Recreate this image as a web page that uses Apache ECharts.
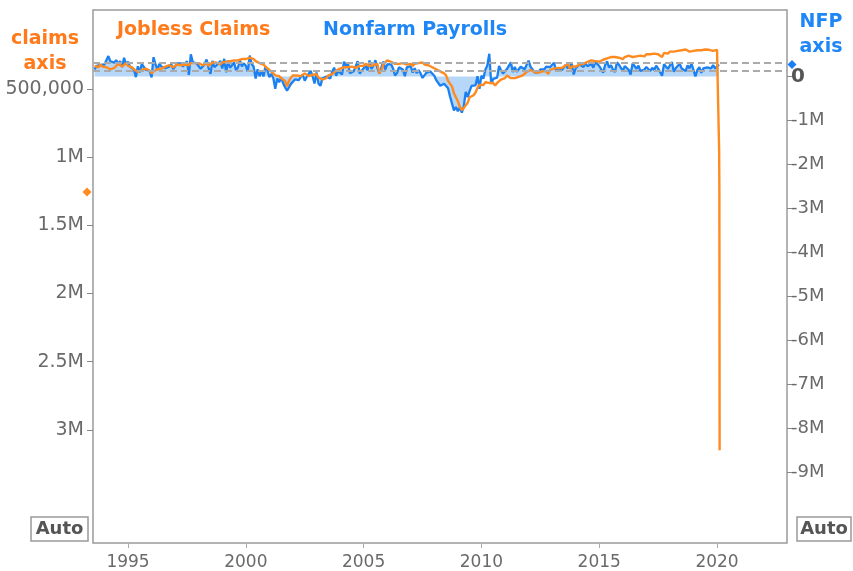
<!DOCTYPE html>
<html><head><meta charset="utf-8">
<script src="https://cdn.jsdelivr.net/npm/echarts@6/dist/echarts.min.js"></script>
<style>html,body{margin:0;padding:0;background:#fff}#c{width:853px;height:571px}</style>
</head><body><div id="c"></div>
<script>
// ---------- DATA ----------
const startYear = 1993, startMonth = 8; // monthly series start (Aug 1993)
// Nonfarm payrolls, monthly change (thousands), Aug 1993 - Feb 2020
const nfp = [
 157,241,270,262,292,
 272,240,463,347,333,316,372,289,348,213,424,284,
 336,219,221,163,-15,233,94,285,246,153,145,128,
 -19,438,273,151,290,226,220,190,212,222,282,168,
 232,297,321,296,224,250,347,37,505,325,304,295,
 272,177,140,279,388,201,59,355,214,196,291,357,
 182,401,94,364,200,254,323,144,205,367,232,296,
 249,111,474,288,221,-47,164,4,121,1,228,142,
 -16,63,-37,-279,-46,-131,-20,-152,-246,-325,-293,-168,
 -141,-68,-23,-85,-8,44,-97,-11,-56,125,6,-158,
 93,-159,-213,-49,-6,-3,4,-45,107,201,15,122,
 156,45,334,250,308,77,39,121,166,349,64,133,
 136,240,141,362,169,246,369,196,67,84,337,159,
 277,315,280,182,23,77,207,181,158,5,208,171,
 238,88,188,78,144,71,-33,-24,88,84,114,97,
 17,-84,-78,-210,-185,-165,-209,-266,-452,-473,-770,-695,
 -791,-703,-823,-686,-351,-470,-329,-212,-219,-200,7,-278,
 18,-50,156,251,516,-167,-58,-51,-27,241,137,71,
 70,168,212,322,102,217,106,122,221,183,164,196,
 360,226,243,96,110,88,160,150,161,225,203,214,
 190,311,135,192,218,146,140,269,185,189,291,45,
 187,168,272,310,213,306,232,218,286,200,331,286,
 239,237,86,262,344,206,254,157,100,321,272,239,
 126,237,225,153,43,297,291,176,249,124,164,155,
 216,219,125,199,146,246,179,194,18,282,223,174,
 176,330,107,194,239,286,181,153,121,255,186,290,
 312,1,147,210,85,182,194,207,208,185,261,184,
 214,273
];
// Initial jobless claims, monthly level (thousands), Aug 1993 - Feb 2020
const claims = [
 330,322,340,320,335,
 345,340,345,355,350,345,330,315,320,335,325,310,
 330,335,340,355,360,375,380,360,355,350,360,365,
 385,370,360,355,360,350,340,335,325,325,330,340,
 335,320,320,325,330,320,315,325,310,305,310,320,
 310,315,325,315,310,330,330,305,300,305,315,320,
 305,300,300,305,295,290,290,285,290,290,280,275,
 280,280,270,265,280,295,300,310,310,320,335,345,
 360,370,385,400,410,405,420,425,440,480,440,415,
 400,390,400,410,405,400,385,395,405,400,395,400,
 390,415,425,430,425,420,400,395,390,385,365,355,
 350,345,340,335,340,335,335,340,345,335,330,335,
 330,315,325,330,330,325,315,315,385,365,320,315,
 290,295,300,305,315,310,315,315,310,310,320,315,
 315,330,315,320,310,315,305,320,315,325,335,340,
 335,355,365,370,370,385,400,440,460,480,530,560,
 590,630,655,640,620,600,560,565,545,525,490,470,
 470,470,450,455,455,460,455,475,455,450,430,420,
 420,400,395,420,425,420,410,410,410,400,395,375,
 370,360,365,375,375,380,370,370,370,370,390,360,
 355,350,345,345,345,345,340,325,310,350,335,345,
 335,335,320,315,315,310,300,300,290,285,295,295,
 300,300,285,280,275,275,265,275,265,260,270,275,
 280,265,260,255,265,265,260,260,255,255,250,260,
 245,240,245,245,240,245,245,240,265,235,240,240,
 225,220,225,220,220,220,215,210,210,215,225,220,
 220,225,215,210,215,220,210,215,212,215,220,220,
 212,212
];
// March 2020 spike (decimal year, thousands)
const spikeYears = [2020.09, 2020.10, 2020.11];
const spikeClaims = [950, 1240, 3150];
// reference levels (dashed lines)
const claimsRef = 306;
const nfpRef = 125;
// last-value markers
const claimsMarker = 1255;
const nfpMarker = 273;
// tick labels
const xTicks = [1995, 2000, 2005, 2010, 2015, 2020];
const claimsTicks = [500, 1000, 1500, 2000, 2500, 3000];
const nfpTicks = [0, -1000, -2000, -3000, -4000, -5000, -6000, -7000, -8000, -9000];

// ---------- BUILD ----------
const ORANGE = '#FF8A1F', ORANGE_T = '#FF7A1A';
const BLUE = '#1C80F0', BLUE_T = '#1F86F5';
const FONT = '"DejaVu Sans", Verdana, sans-serif';
const monthX = i => startYear + (startMonth - 1 + i) / 12;
const nfpData = nfp.map((v, i) => [monthX(i), v]);
const claimsData = claims.map((v, i) => [monthX(i), v]);
spikeYears.forEach((x, i) => claimsData.push([x, spikeClaims[i]]));

const chart = echarts.init(document.getElementById('c'), null, {renderer: 'canvas'});
const option = {
  animation: false,
  textStyle: {fontFamily: FONT},
  grid: {left: 93, right: 66, top: 10, bottom: 28, show: true, borderColor: '#9a9a9a', borderWidth: 1.5},
  xAxis: {
    type: 'value', min: 1993.514, max: 2022.97,
    axisLine: {show: false, onZero: false}, splitLine: {show: false},
    axisTick: {show: true, customValues: xTicks, length: 5, lineStyle: {color: '#aaa'}},
    axisLabel: {customValues: xTicks, color: '#6a6a6a', fontSize: 17, margin: 11, fontFamily: FONT, formatter: v => String(v)}
  },
  yAxis: [{
    type: 'value', inverse: true, min: -80, max: 3830, position: 'left',
    axisLine: {show: false, onZero: false}, splitLine: {show: false},
    axisTick: {show: true, customValues: claimsTicks, length: 6, lineStyle: {color: '#888'}},
    axisLabel: {customValues: claimsTicks, color: '#6a6a6a', fontSize: 19, margin: 9, fontFamily: FONT,
      formatter: v => v === 500 ? '500,000' : (v / 1000) + 'M'}
  }, {
    type: 'value', min: -10603, max: 1511, position: 'right',
    axisLine: {show: false, onZero: false}, splitLine: {show: false},
    axisTick: {show: true, customValues: nfpTicks, length: 6, lineStyle: {color: '#888'}},
    axisLabel: {customValues: nfpTicks, color: '#6a6a6a', fontSize: 18, margin: 4, fontFamily: FONT,
      formatter: v => v === 0 ? '{z|0}' : (v / 1000) + 'M',
      rich: {z: {fontWeight: 'bold', fontSize: 20, color: '#555', fontFamily: FONT}}}
  }],
  series: [{
    name: 'Nonfarm Payrolls', type: 'line', yAxisIndex: 1, data: nfpData,
    showSymbol: false, symbol: 'none', z: 2,
    lineStyle: {color: BLUE, width: 2.3}, itemStyle: {color: BLUE},
    areaStyle: {color: '#b6d7f8', origin: 0, opacity: 1},
    markLine: {silent: true, symbol: 'none', label: {show: false},
      lineStyle: {type: [7, 4], color: '#aaa', width: 2}, data: [{yAxis: nfpRef}]}
  }, {
    name: 'Jobless Claims', type: 'line', yAxisIndex: 0, data: claimsData,
    showSymbol: false, symbol: 'none', z: 3,
    lineStyle: {color: ORANGE, width: 2.4}, itemStyle: {color: ORANGE},
    markLine: {silent: true, symbol: 'none', label: {show: false},
      lineStyle: {type: [7, 4], color: '#aaa', width: 2}, data: [{yAxis: claimsRef}]}
  }],
  graphic: [
    {type: 'text', x: 45, y: 27, style: {text: 'claims\naxis', fill: ORANGE_T, font: 'bold 19px ' + FONT, textAlign: 'center', lineHeight: 25}},
    {type: 'text', x: 117, y: 21, style: {text: 'Jobless Claims', fill: ORANGE_T, font: 'bold 19px ' + FONT}},
    {type: 'text', x: 323, y: 21, style: {text: 'Nonfarm Payrolls', fill: BLUE_T, font: 'bold 19px ' + FONT}},
    {type: 'text', x: 821, y: 10, style: {text: 'NFP\naxis', fill: BLUE_T, font: 'bold 19px ' + FONT, textAlign: 'center', lineHeight: 25}},
    {type: 'group', x: 31, y: 517, children: [
      {type: 'rect', shape: {x: 0, y: 0, width: 57, height: 24}, style: {fill: '#fff', stroke: '#999', lineWidth: 1.5}},
      {type: 'text', x: 28.5, y: 12, style: {text: 'Auto', fill: '#555', font: 'bold 18px ' + FONT, textAlign: 'center', textVerticalAlign: 'middle'}}
    ]},
    {type: 'group', x: 797, y: 517, children: [
      {type: 'rect', shape: {x: 0, y: 0, width: 54, height: 24}, style: {fill: '#fff', stroke: '#999', lineWidth: 1.5}},
      {type: 'text', x: 27, y: 12, style: {text: 'Auto', fill: '#555', font: 'bold 18px ' + FONT, textAlign: 'center', textVerticalAlign: 'middle'}}
    ]}
  ]
};
chart.setOption(option);
// last-value diamonds placed through the axes' scales
const yc = chart.convertToPixel({yAxisIndex: 0}, claimsMarker);
const yn = chart.convertToPixel({yAxisIndex: 1}, nfpMarker);
chart.setOption({graphic: option.graphic.concat([
  {type: 'polygon', shape: {points: [[87, yc - 4.5], [91.5, yc], [87, yc + 4.5], [82.5, yc]]}, style: {fill: ORANGE}},
  {type: 'polygon', shape: {points: [[792, yn - 4.5], [796.5, yn], [792, yn + 4.5], [787.5, yn]]}, style: {fill: BLUE}}
])});
</script>
</body></html>
